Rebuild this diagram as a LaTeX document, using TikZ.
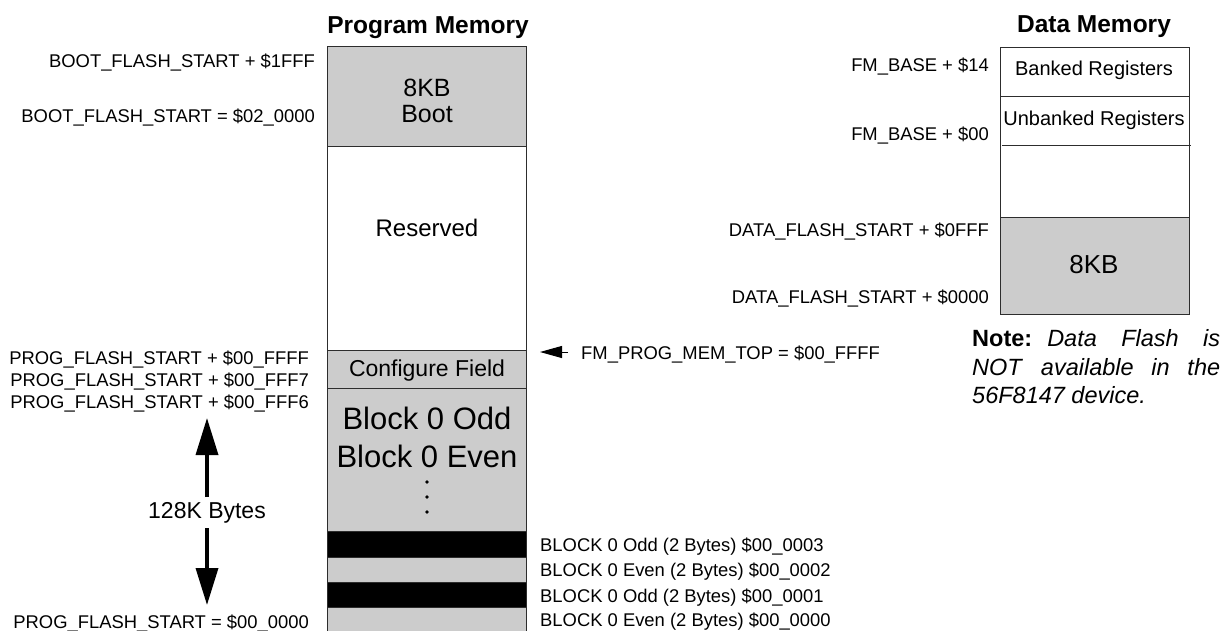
\documentclass[tikz,border=0pt]{standalone}
\usepackage{fontspec}
\setmainfont{Liberation Sans}
\usetikzlibrary{arrows.meta}
\definecolor{memgray}{RGB}{204,204,204}
\definecolor{edgecol}{RGB}{45,45,45}
\newcommand{\myfs}[1]{\fontsize{#1}{#1}\selectfont}
\begin{document}
\begin{tikzpicture}[x=1pt,y=-1pt,
  region/.style={draw=edgecol, line width=1pt},
  lbl/.style={font=\myfs{18.4}, inner sep=0pt},
  title/.style={font=\bfseries\myfs{24.5}, inner sep=0pt, anchor=base},
  memtext/.style={inner sep=0pt, anchor=base},
  vdot/.style={circle, fill=black, inner sep=0pt, minimum size=3.8pt},
  bigarrow/.style={line width=3.5pt, -{Triangle[width=22pt,length=37pt]}},
  smallarrow/.style={line width=1pt, -{Triangle[width=12pt,length=22pt]}}]
\useasboundingbox (0,0) rectangle (1231,630);
% ---------------- Program memory column
\begin{scope}
\clip (0,0) rectangle (1231,630);
\filldraw[region, fill=memgray] (327,46) rectangle (526,146);
\draw[region] (327,146) rectangle (526,350);
\filldraw[region, fill=memgray] (327,350) rectangle (526,388);
\filldraw[region, fill=memgray] (327,388) rectangle (526,531);
\filldraw[region, fill=black] (327,531) rectangle (526,557);
\filldraw[region, fill=memgray] (327,557) rectangle (526,582);
\filldraw[region, fill=black] (327,582) rectangle (526,607);
\filldraw[region, fill=memgray] (327,607) rectangle (526,645);
\end{scope}
\node[title] (pmtitle) at (428,33) {Program Memory};
\node[memtext, font=\myfs{25}] (boot1) at (427,96) {8KB};
\node[memtext, font=\myfs{25}] (boot2) at (427,122) {Boot};
\node[memtext, font=\myfs{24}] (resv) at (427,236.6) {Reserved};
\node[memtext, font=\myfs{23}] (conf) at (427,376.3) {Configure Field};
\node[memtext, font=\myfs{31}] (blkodd) at (427,429) {Block 0 Odd};
\node[memtext, font=\myfs{31}] (blkeven) at (427,467) {Block 0 Even};
\node[vdot] (dot1) at (427,482) {};
\node[vdot] (dot2) at (427,497) {};
\node[vdot] (dot3) at (427,512) {};
% left labels
\node[lbl, anchor=base east] (bfs1) at (315,67.5) {BOOT\_FLASH\_START + \$1FFF};
\node[lbl, anchor=base east] (bfs0) at (315,122.5) {BOOT\_FLASH\_START = \$02\_0000};
\node[lbl, anchor=base east] (pfs1) at (309,364.5) {PROG\_FLASH\_START + \$00\_FFFF};
\node[lbl, anchor=base east] (pfs2) at (309,386.6) {PROG\_FLASH\_START + \$00\_FFF7};
\node[lbl, anchor=base east] (pfs3) at (309,408.3) {PROG\_FLASH\_START + \$00\_FFF6};
\node[lbl, anchor=base east] (pfs0) at (309,628.6) {PROG\_FLASH\_START = \$00\_0000};
\node[inner sep=0pt, font=\myfs{23}] (size) at (207,513) {128K Bytes};
\coordinate (uptip) at (207,418);
\coordinate (downtip) at (207,605);
\draw[bigarrow] (size.north |- 0,497) -- (uptip);
\draw[bigarrow] (size.south |- 0,528) -- (downtip);
% right labels of program memory
\node[lbl, anchor=base west] (fmtop) at (581,359) {FM\_PROG\_MEM\_TOP = \$00\_FFFF};
\coordinate (fmtip) at (540,352);
\draw[smallarrow] (fmtop.west |- fmtip) ++(-13,0) -- (fmtip);
\node[lbl, anchor=base west] (b3) at (540,551.6) {BLOCK 0 Odd (2 Bytes) \$00\_0003};
\node[lbl, anchor=base west] (b2) at (540,576.6) {BLOCK 0 Even (2 Bytes) \$00\_0002};
\node[lbl, anchor=base west] (b1) at (540,602.6) {BLOCK 0 Odd (2 Bytes) \$00\_0001};
\node[lbl, anchor=base west] (b0) at (540,626.6) {BLOCK 0 Even (2 Bytes) \$00\_0000};
% ---------------- Data memory column
\draw[region] (1000,47) rectangle (1189,96);
\draw[region] (1000,96) rectangle (1189,217);
\draw[edgecol, line width=1pt] (1002,145) -- (1191,145);
\filldraw[region, fill=memgray] (1000,217) rectangle (1189,314);
\node[title] (dmtitle) at (1094,32) {Data Memory};
\node[memtext, font=\myfs{20}] (bank) at (1094,75) {Banked Registers};
\node[memtext, font=\myfs{20}] (unbank) at (1094,125) {Unbanked Registers};
\node[memtext, font=\myfs{26}] (dkb) at (1094,273) {8KB};
\node[lbl, anchor=base east] (fm14) at (989,71.6) {FM\_BASE + \$14};
\node[lbl, anchor=base east] (fm00) at (989,140.6) {FM\_BASE + \$00};
\node[lbl, anchor=base east] (dfs1) at (989,236.6) {DATA\_FLASH\_START + \$0FFF};
\node[lbl, anchor=base east] (dfs0) at (989,303.6) {DATA\_FLASH\_START + \$0000};
% note
\node[inner sep=0pt, anchor=base west, font=\myfs{23.5}] (note1) at (972,346) {\makebox[248pt][l]{\textbf{Note:}\hspace{15pt}\textit{Data}\hfill\textit{Flash}\hfill\textit{is}}};
\node[inner sep=0pt, anchor=base west, font=\myfs{23.5}] (note2) at (972,375) {\makebox[248pt][l]{\textit{NOT}\hfill\textit{available}\hfill\textit{in}\hfill\textit{the}}};
\node[inner sep=0pt, anchor=base west, font=\myfs{23.5}] (note3) at (972,403) {\textit{56F8147 device.}};
\end{tikzpicture}
\end{document}
